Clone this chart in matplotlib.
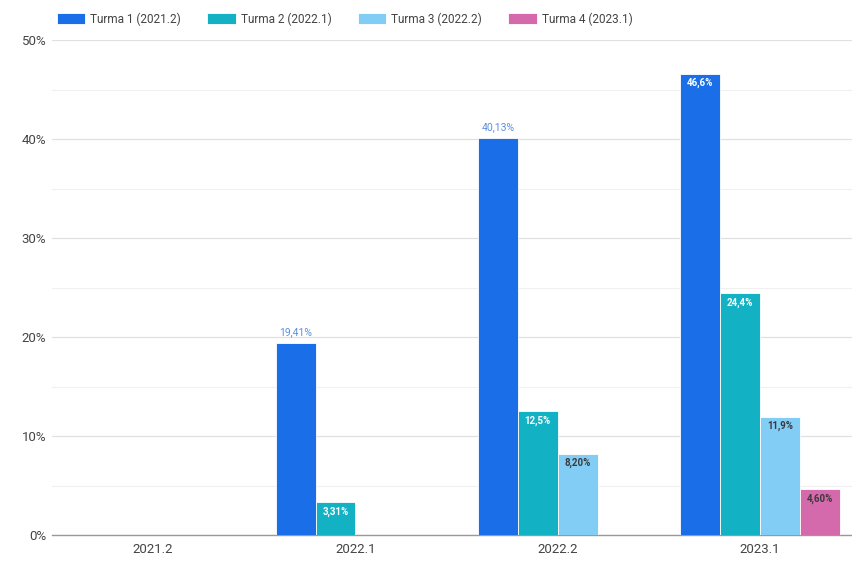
import matplotlib
matplotlib.use("Agg")
import matplotlib.pyplot as plt
import numpy as np

plt.rcParams['font.family'] = ['Roboto', 'DejaVu Sans']

categories = ["2021.2", "2022.1", "2022.2", "2023.1"]
series_names = ["Turma 1 (2021.2)", "Turma 2 (2022.1)", "Turma 3 (2022.2)", "Turma 4 (2023.1)"]
turma1 = [0, 19.41, 40.13, 46.6]
turma2 = [0, 3.31, 12.5, 24.4]
turma3 = [0, 0, 8.20, 11.9]
turma4 = [0, 0, 0, 4.6]
labels1 = ["", "19,41%", "40,13%", "46,6%"]
labels2 = ["", "3,31%", "12,5%", "24,4%"]
labels3 = ["", "", "8,20%", "11,9%"]
labels4 = ["", "", "", "4,60%"]
yticks = [0, 10, 20, 30, 40, 50]
ytick_labels = ["0%", "10%", "20%", "30%", "40%", "50%"]

colors = ['#1a6fe8', '#12b2c4', '#82cdf5', '#d46aab']

fig = plt.figure(figsize=(8.53, 5.65), dpi=100)
ax = fig.add_axes([52/853, 30/565, 801/853, 495/565])

series = [turma1, turma2, turma3, turma4]
labels = [labels1, labels2, labels3, labels4]
x = np.arange(len(categories))
w = 0.197
offsets = [-1.5, -0.5, 0.5, 1.5]

for s, (vals, labs, col, name) in enumerate(zip(series, labels, colors, series_names)):
    bars = ax.bar(x + offsets[s] * w, vals, width=w, color=col, label=name,
                  edgecolor='white', linewidth=0.6, zorder=3)
    for i, (b, v, lab) in enumerate(zip(bars, vals, labs)):
        if not lab:
            continue
        cx = b.get_x() + b.get_width() / 2
        if s == 0 and v < 45:
            ax.text(cx, v + 0.6, lab, ha='center', va='bottom', fontsize=7.5,
                    color='#5b8fe0', zorder=4)
        else:
            tc = 'white' if s <= 1 else '#3a3a3a'
            ax.text(cx, v - 0.4, lab, ha='center', va='top', fontsize=7,
                    color=tc, fontweight='bold', zorder=4)

ax.set_xlim(-0.5, 3.46)
ax.set_ylim(0, 50)
ax.set_yticks(yticks)
ax.set_yticklabels(ytick_labels)
ax.set_yticks([5, 15, 25, 35, 45], minor=True)
ax.grid(axis='y', which='major', color='#e0e0e0', linewidth=0.9, zorder=0)
ax.grid(axis='y', which='minor', color='#f0f0f0', linewidth=0.8, zorder=0)
ax.set_xticks(x)
ax.set_xticklabels(categories)
ax.tick_params(axis='both', which='both', length=0, labelsize=9.5, colors='#444444')
ax.tick_params(axis='x', pad=6)
ax.tick_params(axis='y', pad=4)
for sp in ['top', 'right', 'left']:
    ax.spines[sp].set_visible(False)
ax.spines['bottom'].set_color('#999999')
ax.spines['bottom'].set_linewidth(1.0)

leg = fig.legend(loc='upper left', bbox_to_anchor=(46/853, 0.997), ncol=4, frameon=False,
                 fontsize=8.5, handlelength=2.4, handleheight=1.0, columnspacing=2.25,
                 handletextpad=0.42, borderpad=0.4)
for t in leg.get_texts():
    t.set_color('#444444')

fig.savefig("out.png", dpi=100, facecolor='white')
